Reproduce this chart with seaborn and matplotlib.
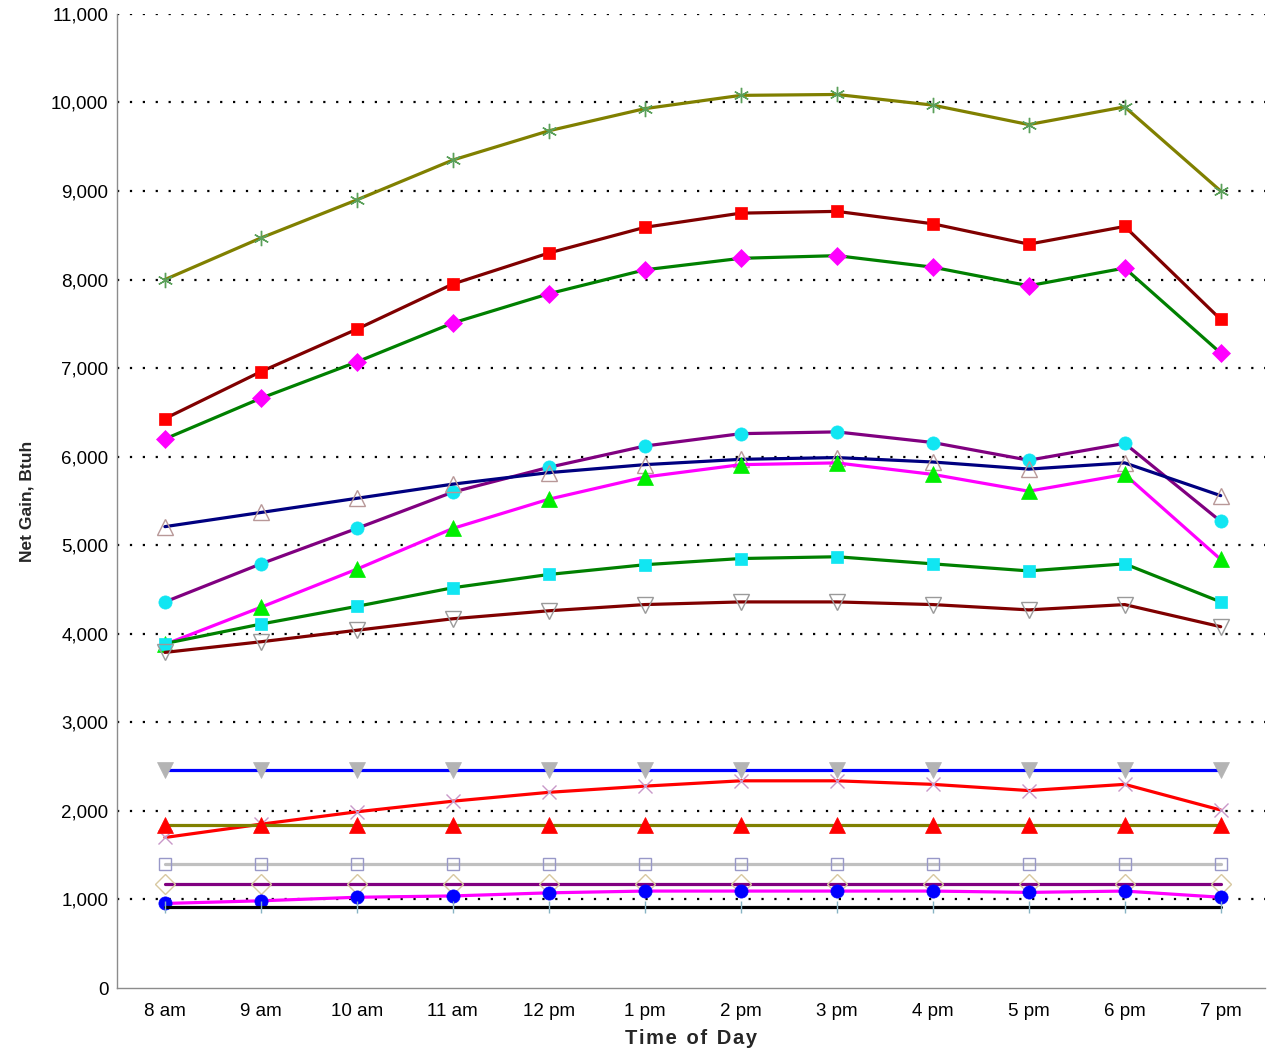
import matplotlib
matplotlib.use("Agg")
import matplotlib.pyplot as plt
import matplotlib.ticker as mticker
import seaborn as sns
import pandas as pd

hours = ["8 am", "9 am", "10 am", "11 am", "12 pm", "1 pm", "2 pm", "3 pm",
         "4 pm", "5 pm", "6 pm", "7 pm"]

s_olive_star = [8000, 8470, 8900, 9350, 9680, 9930, 10080, 10090, 9970, 9750, 9950, 9000]
s_maroon_sq = [6430, 6960, 7440, 7950, 8300, 8590, 8750, 8770, 8630, 8400, 8600, 7550]
s_green_dia = [6200, 6660, 7070, 7510, 7840, 8110, 8240, 8270, 8140, 7930, 8130, 7170]
s_purple_circ = [4360, 4790, 5190, 5600, 5880, 6120, 6260, 6280, 6160, 5960, 6150, 5270]
s_navy_tri = [5210, 5370, 5530, 5690, 5820, 5910, 5970, 5990, 5940, 5860, 5930, 5560]
s_magenta_tri = [3880, 4300, 4730, 5190, 5520, 5770, 5910, 5930, 5800, 5610, 5800, 4840]
s_green_sq = [3890, 4110, 4310, 4520, 4670, 4780, 4850, 4870, 4790, 4710, 4790, 4360]
s_maroon_vtri = [3790, 3910, 4040, 4170, 4260, 4330, 4360, 4360, 4330, 4270, 4330, 4080]
s_blue_flat = [2460] * 12
s_red_x = [1700, 1850, 1990, 2110, 2210, 2280, 2340, 2340, 2300, 2230, 2300, 2010]
s_olive_flat = [1840] * 12
s_silver_flat = [1400] * 12
s_purple_flat = [1170] * 12
s_magenta_circ = [955, 985, 1025, 1040, 1075, 1095, 1095, 1095, 1095, 1080, 1095, 1025]
s_black_flat = [920] * 12

# (values, line colour, marker, marker face, marker edge, marker size)
series = [
    (s_olive_star, "#808000", (6, 2, 0), "#5aa05a", "#5aa05a", 11),
    (s_maroon_sq, "#800000", "s", "#ff0000", "#ff0000", 9),
    (s_green_dia, "#008000", "D", "#ff00ff", "#ff00ff", 9),
    (s_purple_circ, "#800080", "o", "#11e6f2", "#11e6f2", 9.5),
    (s_navy_tri, "#000080", "^", "none", "#b89898", 12),
    (s_magenta_tri, "#ff00ff", "^", "#00ee00", "#00ee00", 11),
    (s_green_sq, "#008000", "s", "#11e6f2", "#11e6f2", 9),
    (s_maroon_vtri, "#800000", "v", "none", "#9a9a9a", 12),
    (s_blue_flat, "#0000ff", "v", "#b4b4b4", "#b4b4b4", 12),
    (s_red_x, "#ff0000", "x", "#c898c8", "#c898c8", 10),
    (s_olive_flat, "#808000", "^", "#ff0000", "#ff0000", 11),
    (s_silver_flat, "#c0c0c0", "s", "none", "#9898c8", 9),
    (s_purple_flat, "#800080", "D", "none", "#d8c8a0", 10),
    (s_magenta_circ, "#ff00ff", "o", "#0000ff", "#0000ff", 9.5),
    (s_black_flat, "#000000", "|", "#88b4c4", "#88b4c4", 9),
]

sns.set_style("white")
plt.rcParams["font.family"] = ["Liberation Sans", "DejaVu Sans"]

fig = plt.figure(figsize=(12.67, 10.52), dpi=100)
ax = fig.add_axes([0.0923, 0.0608, 0.906, 0.926])

x = list(range(len(hours)))
for vals, lc, mk, mfc, mec, ms in series:
    df = pd.DataFrame({"hour": x, "gain": vals})
    thin = mfc == "none" or mk in ("x", "|", (6, 2, 0))
    sns.lineplot(data=df, x="hour", y="gain", ax=ax, color=lc, linewidth=2.3,
                 marker=mk, markersize=ms, markerfacecolor=mfc,
                 markeredgecolor=mec, markeredgewidth=1.0 if thin else 0.5)

ax.set_xlim(-0.5, 11.46)
ax.set_ylim(0, 11000)
ax.yaxis.set_major_locator(mticker.MultipleLocator(1000))
ax.yaxis.set_minor_locator(mticker.MultipleLocator(500))
ax.yaxis.set_major_formatter(mticker.StrMethodFormatter("{x:,.0f}"))
ax.set_xticks(x)
ax.set_xticklabels(hours)

for v in range(1000, 11001, 1000):
    ax.axhline(v, color="black", linewidth=1.6, linestyle=(0, (1, 4.8)), zorder=0)

for side in ["top", "right"]:
    ax.spines[side].set_visible(False)
for side in ["left", "bottom"]:
    ax.spines[side].set_color("#8c8c8c")
    ax.spines[side].set_linewidth(1.0)

ax.tick_params(axis="both", which="both", direction="inout", color="#8c8c8c",
               labelsize=13.5, labelcolor="black", length=6)
ax.tick_params(axis="y", which="major", pad=3)
ax.tick_params(axis="x", which="major", pad=8)

ax.set_xlabel("T\u200ai\u200am\u200ae\u2009 o\u200af\u2009 D\u200aa\u200ay",
              fontsize=14.5, fontweight="bold", labelpad=6)
ax.set_ylabel("Net Gain, Btuh", fontsize=12.5, fontweight="bold", labelpad=12)

fig.savefig("out.png", dpi=100)
